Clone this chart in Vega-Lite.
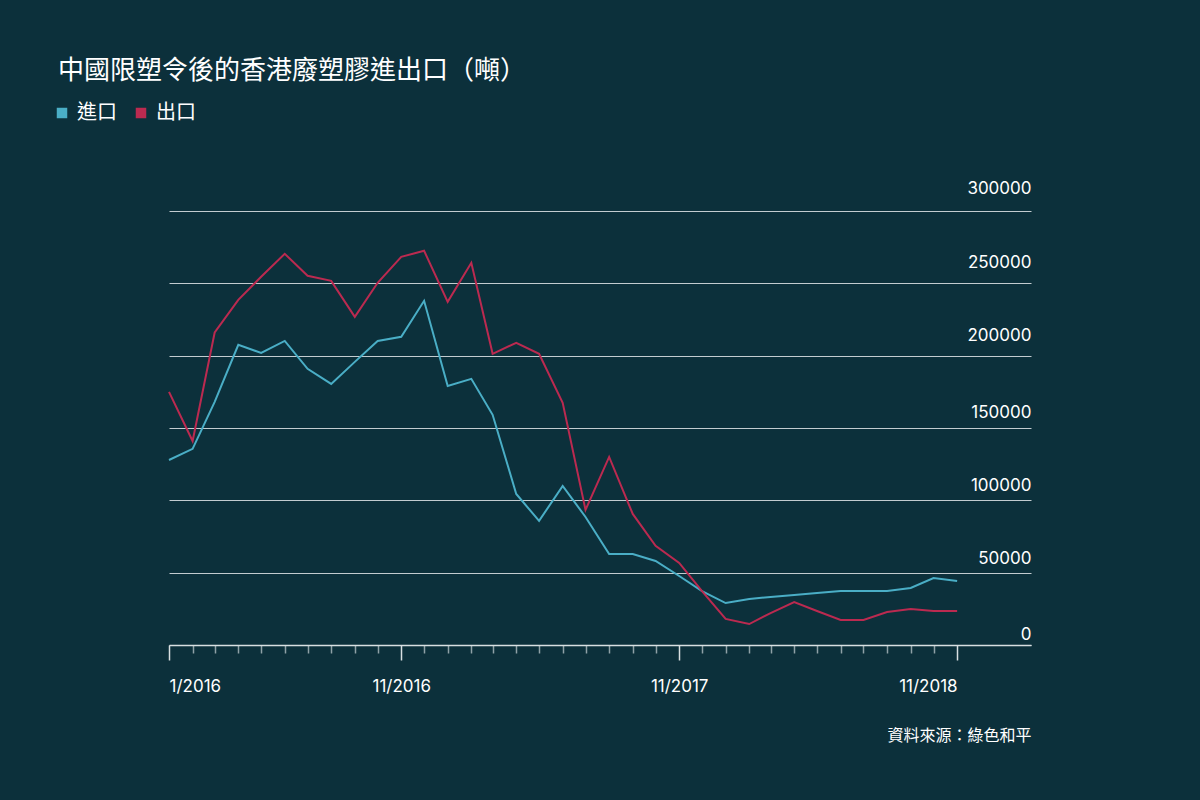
{
  "$schema": "https://vega.github.io/schema/vega-lite/v6.json",
  "width": 862,
  "height": 434,
  "autosize": "none",
  "padding": {"left": 169, "top": 211, "right": 169, "bottom": 155},
  "background": "#0c303b",
  "config": {"view": {"stroke": null}, "font": "Inter, Noto Sans CJK TC"},
  "title": {
    "text": "中國限塑令後的香港廢塑膠進出口（噸）",
    "anchor": "start",
    "frame": "group",
    "dx": -111,
    "offset": 6,
    "baseline": "middle",
    "font": "Noto Sans CJK TC",
    "fontSize": 26,
    "fontWeight": "normal",
    "color": "#ffffff"
  },
  "data": {
    "values": [
      {"month": "2016-01", "series": "進口", "tons": 127900},
      {"month": "2016-02", "series": "進口", "tons": 135600},
      {"month": "2016-03", "series": "進口", "tons": 168100},
      {"month": "2016-04", "series": "進口", "tons": 207500},
      {"month": "2016-05", "series": "進口", "tons": 201900},
      {"month": "2016-06", "series": "進口", "tons": 210200},
      {"month": "2016-07", "series": "進口", "tons": 190900},
      {"month": "2016-08", "series": "進口", "tons": 180500},
      {"month": "2016-09", "series": "進口", "tons": 195700},
      {"month": "2016-10", "series": "進口", "tons": 210200},
      {"month": "2016-11", "series": "進口", "tons": 213000},
      {"month": "2016-12", "series": "進口", "tons": 237900},
      {"month": "2017-01", "series": "進口", "tons": 179100},
      {"month": "2017-02", "series": "進口", "tons": 184000},
      {"month": "2017-03", "series": "進口", "tons": 159100},
      {"month": "2017-04", "series": "進口", "tons": 104400},
      {"month": "2017-05", "series": "進口", "tons": 85800},
      {"month": "2017-06", "series": "進口", "tons": 110000},
      {"month": "2017-07", "series": "進口", "tons": 88500},
      {"month": "2017-08", "series": "進口", "tons": 62900},
      {"month": "2017-09", "series": "進口", "tons": 62900},
      {"month": "2017-10", "series": "進口", "tons": 58100},
      {"month": "2017-11", "series": "進口", "tons": 47700},
      {"month": "2017-12", "series": "進口", "tons": 37300},
      {"month": "2018-01", "series": "進口", "tons": 29000},
      {"month": "2018-02", "series": "進口", "tons": 31800},
      {"month": "2018-03", "series": "進口", "tons": 33200},
      {"month": "2018-04", "series": "進口", "tons": 34600},
      {"month": "2018-05", "series": "進口", "tons": 36000},
      {"month": "2018-06", "series": "進口", "tons": 37300},
      {"month": "2018-07", "series": "進口", "tons": 37300},
      {"month": "2018-08", "series": "進口", "tons": 37300},
      {"month": "2018-09", "series": "進口", "tons": 39400},
      {"month": "2018-10", "series": "進口", "tons": 46300},
      {"month": "2018-11", "series": "進口", "tons": 44300},
      {"month": "2016-01", "series": "出口", "tons": 175000},
      {"month": "2016-02", "series": "出口", "tons": 141000},
      {"month": "2016-03", "series": "出口", "tons": 216000},
      {"month": "2016-04", "series": "出口", "tons": 238600},
      {"month": "2016-05", "series": "出口", "tons": 254500},
      {"month": "2016-06", "series": "出口", "tons": 270400},
      {"month": "2016-07", "series": "出口", "tons": 255200},
      {"month": "2016-08", "series": "出口", "tons": 251700},
      {"month": "2016-09", "series": "出口", "tons": 226800},
      {"month": "2016-10", "series": "出口", "tons": 250400},
      {"month": "2016-11", "series": "出口", "tons": 268300},
      {"month": "2016-12", "series": "出口", "tons": 272500},
      {"month": "2017-01", "series": "出口", "tons": 237200},
      {"month": "2017-02", "series": "出口", "tons": 264200},
      {"month": "2017-03", "series": "出口", "tons": 201300},
      {"month": "2017-04", "series": "出口", "tons": 208900},
      {"month": "2017-05", "series": "出口", "tons": 201300},
      {"month": "2017-06", "series": "出口", "tons": 167400},
      {"month": "2017-07", "series": "出口", "tons": 93400},
      {"month": "2017-08", "series": "出口", "tons": 130000},
      {"month": "2017-09", "series": "出口", "tons": 90600},
      {"month": "2017-10", "series": "出口", "tons": 68500},
      {"month": "2017-11", "series": "出口", "tons": 56700},
      {"month": "2017-12", "series": "出口", "tons": 37300},
      {"month": "2018-01", "series": "出口", "tons": 18000},
      {"month": "2018-02", "series": "出口", "tons": 14500},
      {"month": "2018-03", "series": "出口", "tons": 22100},
      {"month": "2018-04", "series": "出口", "tons": 29700},
      {"month": "2018-05", "series": "出口", "tons": 23500},
      {"month": "2018-06", "series": "出口", "tons": 17300},
      {"month": "2018-07", "series": "出口", "tons": 17300},
      {"month": "2018-08", "series": "出口", "tons": 22800},
      {"month": "2018-09", "series": "出口", "tons": 24900},
      {"month": "2018-10", "series": "出口", "tons": 23500},
      {"month": "2018-11", "series": "出口", "tons": 23500}
    ],
    "format": {"parse": {"month": "date:'%Y-%m'"}}
  },
  "mark": {"type": "line", "strokeWidth": 2},
  "encoding": {
    "x": {
      "field": "month",
      "type": "temporal",
      "scale": {"domain": [{"year": 2016, "month": 1, "date": 1}, {"year": 2019, "month": 2, "date": 6}]},
      "axis": {
        "values": [
          {"year": 2016, "month": 1, "date": 1}, {"year": 2016, "month": 2, "date": 1},
          {"year": 2016, "month": 3, "date": 1}, {"year": 2016, "month": 4, "date": 1},
          {"year": 2016, "month": 5, "date": 1}, {"year": 2016, "month": 6, "date": 1},
          {"year": 2016, "month": 7, "date": 1}, {"year": 2016, "month": 8, "date": 1},
          {"year": 2016, "month": 9, "date": 1}, {"year": 2016, "month": 10, "date": 1},
          {"year": 2016, "month": 11, "date": 1}, {"year": 2016, "month": 12, "date": 1},
          {"year": 2017, "month": 1, "date": 1}, {"year": 2017, "month": 2, "date": 1},
          {"year": 2017, "month": 3, "date": 1}, {"year": 2017, "month": 4, "date": 1},
          {"year": 2017, "month": 5, "date": 1}, {"year": 2017, "month": 6, "date": 1},
          {"year": 2017, "month": 7, "date": 1}, {"year": 2017, "month": 8, "date": 1},
          {"year": 2017, "month": 9, "date": 1}, {"year": 2017, "month": 10, "date": 1},
          {"year": 2017, "month": 11, "date": 1}, {"year": 2017, "month": 12, "date": 1},
          {"year": 2018, "month": 1, "date": 1}, {"year": 2018, "month": 2, "date": 1},
          {"year": 2018, "month": 3, "date": 1}, {"year": 2018, "month": 4, "date": 1},
          {"year": 2018, "month": 5, "date": 1}, {"year": 2018, "month": 6, "date": 1},
          {"year": 2018, "month": 7, "date": 1}, {"year": 2018, "month": 8, "date": 1},
          {"year": 2018, "month": 9, "date": 1}, {"year": 2018, "month": 10, "date": 1},
          {"year": 2018, "month": 11, "date": 1}
        ],
        "labelExpr": "(month(datum.value) == 10 || (year(datum.value) == 2016 && month(datum.value) == 0)) ? timeFormat(datum.value, '%-m/%Y') : ''",
        "labelOverlap": false,
        "labelFlush": false,
        "labelBound": false,
        "labelAlign": {
          "condition": [
            {"test": "year(datum.value) == 2016 && month(datum.value) == 0", "value": "left"},
            {"test": "year(datum.value) == 2018 && month(datum.value) == 10", "value": "right"}
          ],
          "value": "center"
        },
        "labelBaseline": "middle",
        "labelPadding": 26,
        "labelColor": "#ffffff",
        "labelFont": "Inter",
        "labelFontSize": 17,
        "tickSize": {
          "condition": {"test": "month(datum.value) == 10 || (year(datum.value) == 2016 && month(datum.value) == 0)", "value": 15},
          "value": 8
        },
        "tickColor": {
          "condition": {"test": "month(datum.value) == 10 || (year(datum.value) == 2016 && month(datum.value) == 0)", "value": "#d8dfe1"},
          "value": "#8fa1a7"
        },
        "tickWidth": 1.5,
        "domainColor": "#d8dfe1",
        "domainWidth": 1.5,
        "grid": false,
        "title": "資料來源：綠色和平",
        "titleFont": "Noto Sans CJK TC",
        "titleFontSize": 16,
        "titleFontWeight": "normal",
        "titleColor": "#ffffff",
        "titleAnchor": "end",
        "titleAlign": "right",
        "titleBaseline": "middle",
        "titleX": 862,
        "titleY": 90
      }
    },
    "y": {
      "field": "tons",
      "type": "quantitative",
      "scale": {"domain": [0, 300000]},
      "axis": {
        "orient": "right",
        "values": [0, 50000, 100000, 150000, 200000, 250000, 300000],
        "format": "d",
        "grid": true,
        "gridColor": "#c3ccd0",
        "gridWidth": 1.2,
        "domain": false,
        "ticks": false,
        "tickSize": 0,
        "labelAlign": "right",
        "labelBaseline": "bottom",
        "labelOffset": {
          "condition": [
            {"test": "datum.value == 0", "value": -2},
            {"test": "datum.value == 50000", "value": -5},
            {"test": "datum.value == 100000", "value": -6},
            {"test": "datum.value == 150000", "value": -7},
            {"test": "datum.value == 200000", "value": -11},
            {"test": "datum.value == 250000", "value": -12}
          ],
          "value": -14
        },
        "labelPadding": 0,
        "labelColor": "#ffffff",
        "labelFont": "Inter",
        "labelFontSize": 17,
        "title": null
      }
    },
    "color": {
      "field": "series",
      "type": "nominal",
      "scale": {"domain": ["進口", "出口"], "range": ["#4aaec6", "#bb2a50"]},
      "legend": {
        "orient": "none",
        "legendX": -117,
        "legendY": -108,
        "direction": "horizontal",
        "title": null,
        "symbolType": "square",
        "symbolSize": 110,
        "symbolStrokeWidth": 0,
        "symbolOpacity": 1,
        "labelFont": "Noto Sans CJK TC",
        "labelFontSize": 20,
        "labelColor": "#ffffff",
        "labelOffset": 5,
        "columnPadding": 14,
        "encode": {
          "symbols": {"update": {"fill": {"scale": "color", "field": "value"}, "strokeWidth": {"value": 0}}}
        }
      }
    }
  }
}
